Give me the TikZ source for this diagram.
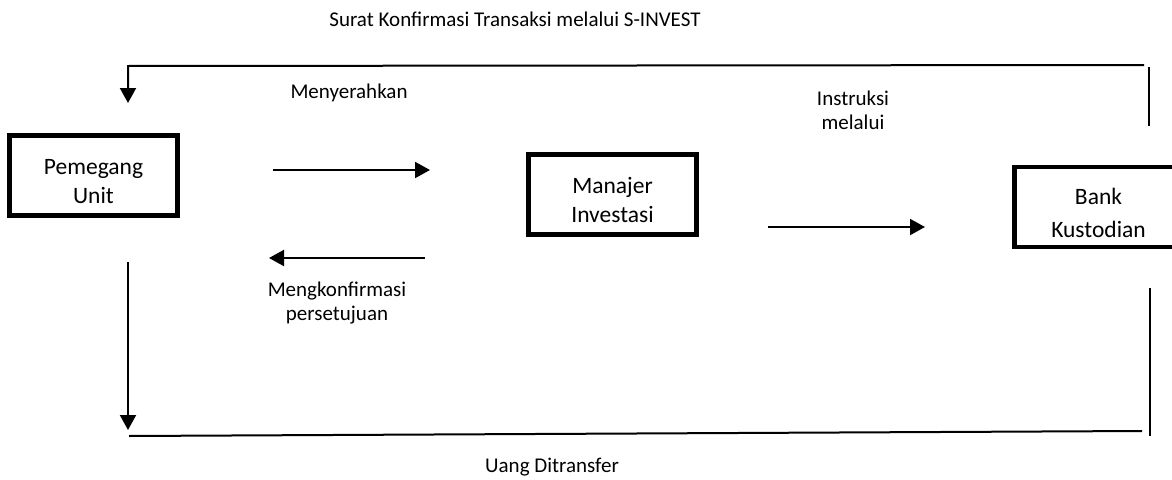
\documentclass[tikz,border=0pt]{standalone}
\usepackage{fontspec}
\setmainfont{Carlito}
\usetikzlibrary{arrows.meta}
\newcommand{\boxstrut}{\rule{0pt}{27.5pt}}
\begin{document}
\begin{tikzpicture}[x=1pt,y=-1pt,
  box/.style={draw,line width=4.5pt,minimum width=168pt,minimum height=80pt,inner sep=0pt,align=center,font=\fontsize{23.5}{29}\selectfont},
  lbl/.style={inner sep=0pt,align=center,font=\fontsize{21}{24}\selectfont},
  conn/.style={line width=2pt},
  tip/.style={-{Triangle[length=15pt,width=16pt]}}]
\useasboundingbox (0,0) rectangle (1172,479);
% boxes
\node[box] (pu) at (93.5,175.5) {\boxstrut Pemegang\\Unit};
\node[box] (mi) at (612.5,194.5) {\boxstrut Manajer\\Investasi};
\node[box,font=\fontsize{23.5}{33}\selectfont] (bk) at (1098.5,207) {\boxstrut Bank\\Kustodian};
% labels
\node[lbl] (ttl) at (515,19) {Surat Konfirmasi Transaksi melalui S-INVEST};
\node[lbl] (mny) at (349,93) {Menyerahkan};
\node[lbl] (ins) at (853,110) {Instruksi\\melalui};
\node[lbl] (mkf) at (337,303) {Mengkonfirmasi\\persetujuan};
\node[lbl] (udt) at (552,467) {Uang Ditransfer};
% connector end points
\coordinate (a1s) at (273,170); \coordinate (a1e) at (430,170);
\coordinate (a2s) at (425,258); \coordinate (a2e) at (269,258);
\coordinate (a3s) at (768,227); \coordinate (a3e) at (925,227);
\coordinate (tr) at (1144,65); \coordinate (tl) at (128,66); \coordinate (tld) at (128,103);
\coordinate (rt1) at (1149,67); \coordinate (rt2) at (1149,126);
\coordinate (lv1) at (128,262); \coordinate (lv2) at (128,430);
\coordinate (bl) at (129,436); \coordinate (br) at (1142,431);
\coordinate (rb1) at (1150,288); \coordinate (rb2) at (1150,436);
% connectors
\draw[conn,tip] (a1s) -- (a1e);
\draw[conn,tip] (a2s) -- (a2e);
\draw[conn,tip] (a3s) -- (a3e);
\draw[conn,tip] (tr) -- (tl) -- (tld);
\draw[conn] (rt1) -- (rt2);
\draw[conn,tip] (lv1) -- (lv2);
\draw[conn] (bl) -- (br);
\draw[conn,line width=2.5pt] (rb1) -- (rb2);
\end{tikzpicture}
\end{document}
